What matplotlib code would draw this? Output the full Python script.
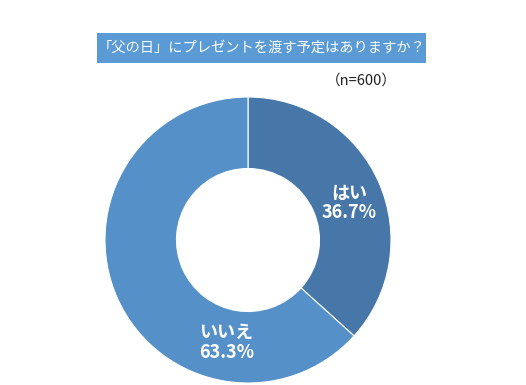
import matplotlib
matplotlib.use("Agg")
import matplotlib.pyplot as plt
from matplotlib.patches import Rectangle

plt.rcParams["font.family"] = ["Noto Sans CJK JP", "DejaVu Sans"]

labels = ["はい", "いいえ"]
shares = [36.7, 63.3]
colors = ["#4677a8", "#5590c8"]
title = "「父の日」にプレゼントを渡す予定はありますか？"
note = "（n=600）"

W, H = 526, 385
fig = plt.figure(figsize=(W / 100, H / 100), dpi=100)

# title banner (pixel box 97..426 x 33..63 from top)
fig.patches.append(Rectangle((97 / W, 1 - 63 / H), 329 / W, 30 / H,
                             transform=fig.transFigure, fc="#5b9bd5", ec="none"))
fig.text(261.5 / W, 1 - 48 / H, title, ha="center", va="center", fontsize=10.3, color="white")
fig.text(361 / W, 1 - 81 / H, note, ha="center", va="center", fontsize=10.5, color="#222222")

ax = fig.add_axes([105 / W, 2 / H, 286 / W, 286 / H])
wedges, _ = ax.pie(shares, colors=colors, startangle=90, counterclock=False, radius=1.0,
                   wedgeprops=dict(width=0.5, edgecolor="white", linewidth=0.8))
ax.set_xlim(-1, 1)
ax.set_ylim(-1, 1)
ax.set_aspect("equal")
ax.axis("off")

label_pos = [(0.705, 0.26), (-0.15, -0.715)]
for lab, val, (x, y) in zip(labels, shares, label_pos):
    ax.text(x, y, f"{lab}\n{val:.1f}%", ha="center", va="center", fontsize=13,
            fontweight="bold", color="white", linespacing=1.05)

fig.savefig("out.png", dpi=100)
